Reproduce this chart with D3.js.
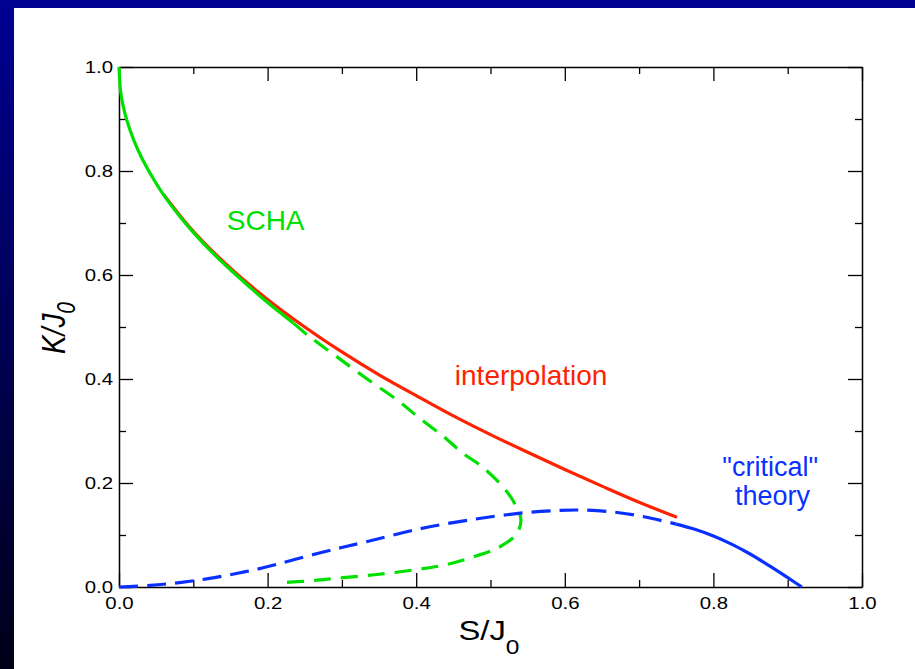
<!DOCTYPE html>
<html>
<head>
<meta charset="utf-8">
<script src="https://cdn.jsdelivr.net/npm/d3@7/dist/d3.min.js"></script>
<style>
  html, body { margin: 0; padding: 0; background: #fff; }
  svg { display: block; }
  text { font-family: "Liberation Sans", Arial, Helvetica, sans-serif; }
</style>
</head>
<body>
<svg id="chart" width="915" height="669"></svg>
<script>
// ---------------- data ----------------
const majorTicks = [0, 0.2, 0.4, 0.6, 0.8, 1.0];
const minorTicks = [0.1, 0.3, 0.5, 0.7, 0.9];
const tickLabels = ["0.0", "0.2", "0.4", "0.6", "0.8", "1.0"];

// SCHA (green), solid part
const schaSolidS = [0, 0.002, 0.005, 0.01, 0.02, 0.03, 0.045, 0.06, 0.08, 0.10, 0.125, 0.15, 0.175, 0.20, 0.235];
const schaSolidK = [1.0, 0.955, 0.929, 0.900, 0.859, 0.827, 0.788, 0.754, 0.716, 0.682, 0.644, 0.610, 0.578, 0.547, 0.507];
// SCHA (green), dashed part (upper branch, turning point, lower branch)
const schaDashS = [0.235, 0.257, 0.293, 0.333, 0.374, 0.405, 0.437, 0.463, 0.490, 0.520, 0.535, 0.541, 0.535, 0.511, 0.475, 0.437, 0.398, 0.347, 0.295, 0.259, 0.214];
const schaDashK = [0.507, 0.481, 0.443, 0.401, 0.360, 0.324, 0.289, 0.257, 0.230, 0.187, 0.154, 0.129, 0.102, 0.076, 0.057, 0.042, 0.033, 0.024, 0.017, 0.012, 0.008];

// interpolation (red)
const interpS = [0.06, 0.10, 0.15, 0.20, 0.25, 0.30, 0.35, 0.40, 0.45, 0.50, 0.55, 0.60, 0.65, 0.70, 0.751];
const interpK = [0.755, 0.684, 0.613, 0.553, 0.500, 0.452, 0.408, 0.368, 0.329, 0.293, 0.259, 0.226, 0.194, 0.163, 0.134];

// "critical" theory (blue), dashed part
const critDashS = [0, 0.042, 0.084, 0.12, 0.158, 0.194, 0.271, 0.333, 0.405, 0.477, 0.540, 0.589, 0.620, 0.660, 0.700, 0.750];
const critDashK = [0, 0.003, 0.009, 0.016, 0.026, 0.037, 0.066, 0.087, 0.112, 0.130, 0.142, 0.147, 0.148, 0.145, 0.137, 0.121];
// "critical" theory (blue), solid part
const critSolidS = [0.750, 0.775, 0.80, 0.825, 0.85, 0.875, 0.90, 0.919];
const critSolidK = [0.121, 0.111, 0.098, 0.082, 0.063, 0.041, 0.018, 0.0];

// annotation labels
const annotations = [
  { text: "SCHA", S: 0.145, K: 0.687, color: "#00e000", size: 28 },
  { text: "interpolation", S: 0.452, K: 0.388, color: "#ff2200", size: 28 },
  { text: "\"critical\"", S: 0.812, K: 0.213, color: "#0a30ff", size: 27 },
  { text: "theory", S: 0.829, K: 0.157, color: "#0a30ff", size: 27 }
];

// ---------------- drawing ----------------
const W = 915, H = 669;
const svg = d3.select("#chart");

const defs = svg.append("defs");
const grad = defs.append("linearGradient").attr("id", "bg").attr("x1", 0).attr("y1", 0).attr("x2", 0).attr("y2", 1);
grad.append("stop").attr("offset", "0%").attr("stop-color", "#000092");
grad.append("stop").attr("offset", "100%").attr("stop-color", "#000018");
svg.append("rect").attr("width", W).attr("height", H).attr("fill", "url(#bg)");
svg.append("rect").attr("x", 14).attr("y", 8).attr("width", W - 14).attr("height", H - 8).attr("fill", "#fff");

const x0 = 119, x1 = 862, y0 = 587, y1 = 67;
const x = d3.scaleLinear().domain([0, 1]).range([x0, x1]);
const y = d3.scaleLinear().domain([0, 1]).range([y0, y1]);

const STRETCH = 1.2;

function styleAxis(g) {
  g.selectAll("path").attr("stroke", "#000").attr("stroke-width", 1.5);
  g.selectAll("line").attr("stroke", "#000").attr("stroke-width", 1.3);
}

// bottom
const gB = svg.append("g").attr("transform", `translate(0,${y0})`)
  .call(d3.axisBottom(x).tickValues(majorTicks).tickSize(-14).tickSizeOuter(0).tickPadding(10)
        .tickFormat((d, i) => tickLabels[i]));
gB.call(styleAxis);
gB.selectAll("text").attr("font-size", 17).attr("fill", "#000")
  .attr("font-family", "Liberation Sans, Arial, sans-serif")
  .attr("transform", `scale(${STRETCH},1)`);
svg.append("g").attr("transform", `translate(0,${y0})`)
  .call(d3.axisBottom(x).tickValues(minorTicks).tickSize(-7).tickSizeOuter(0).tickFormat(""))
  .call(styleAxis).select("path").remove();

// left
const gL = svg.append("g").attr("transform", `translate(${x0},0)`)
  .call(d3.axisLeft(y).tickValues(majorTicks).tickSize(-14).tickSizeOuter(0).tickPadding(5)
        .tickFormat((d, i) => tickLabels[i]));
gL.call(styleAxis);
gL.selectAll("text").attr("font-size", 17).attr("fill", "#000")
  .attr("font-family", "Liberation Sans, Arial, sans-serif")
  .attr("transform", `scale(${STRETCH},1)`);
svg.append("g").attr("transform", `translate(${x0},0)`)
  .call(d3.axisLeft(y).tickValues(minorTicks).tickSize(-7).tickSizeOuter(0).tickFormat(""))
  .call(styleAxis).select("path").remove();

// top
svg.append("g").attr("transform", `translate(0,${y1})`)
  .call(d3.axisTop(x).tickValues(majorTicks).tickSize(-14).tickSizeOuter(0).tickFormat(""))
  .call(styleAxis);
svg.append("g").attr("transform", `translate(0,${y1})`)
  .call(d3.axisTop(x).tickValues(minorTicks).tickSize(-7).tickSizeOuter(0).tickFormat(""))
  .call(styleAxis).select("path").remove();

// right
svg.append("g").attr("transform", `translate(${x1},0)`)
  .call(d3.axisRight(y).tickValues(majorTicks).tickSize(-14).tickSizeOuter(0).tickFormat(""))
  .call(styleAxis);
svg.append("g").attr("transform", `translate(${x1},0)`)
  .call(d3.axisRight(y).tickValues(minorTicks).tickSize(-7).tickSizeOuter(0).tickFormat(""))
  .call(styleAxis).select("path").remove();

// curves
const line = d3.line().x(d => x(d[0])).y(d => y(d[1])).curve(d3.curveCatmullRom.alpha(0.5));
const zip = (a, b) => a.map((v, i) => [v, b[i]]);

function drawCurve(S, K, color, dash) {
  svg.append("path").datum(zip(S, K))
    .attr("d", line)
    .attr("fill", "none")
    .attr("stroke", color)
    .attr("stroke-width", 3.2)
    .attr("stroke-linecap", "butt")
    .attr("stroke-linejoin", "round")
    .attr("stroke-dasharray", dash || null);
}

drawCurve(interpS, interpK, "#ff2200");
drawCurve(schaSolidS, schaSolidK, "#00e000");
drawCurve(schaDashS, schaDashK, "#00e000", "17,10");
drawCurve(critDashS, critDashK, "#0a30ff", "19,9");
drawCurve(critSolidS, critSolidK, "#0a30ff");

// annotations
annotations.forEach(a => {
  svg.append("text")
    .attr("x", x(a.S)).attr("y", y(a.K))
    .attr("fill", a.color)
    .attr("font-size", a.size)
    .text(a.text);
});

// axis titles
const xt = svg.append("text")
  .attr("transform", `translate(489,640) scale(1.17,1)`)
  .attr("text-anchor", "middle")
  .attr("font-size", 28).attr("fill", "#000");
xt.append("tspan").text("S/J");
xt.append("tspan").attr("font-size", 21).attr("dy", 14).text("0");

const yt = svg.append("text")
  .attr("transform", `translate(65,328) scale(1.2,1) rotate(-90)`)
  .attr("text-anchor", "middle")
  .attr("font-size", 28).attr("font-style", "italic").attr("fill", "#000");
yt.append("tspan").text("K/J");
yt.append("tspan").attr("font-size", 21).attr("dy", 8).text("0");
</script>
</body>
</html>
